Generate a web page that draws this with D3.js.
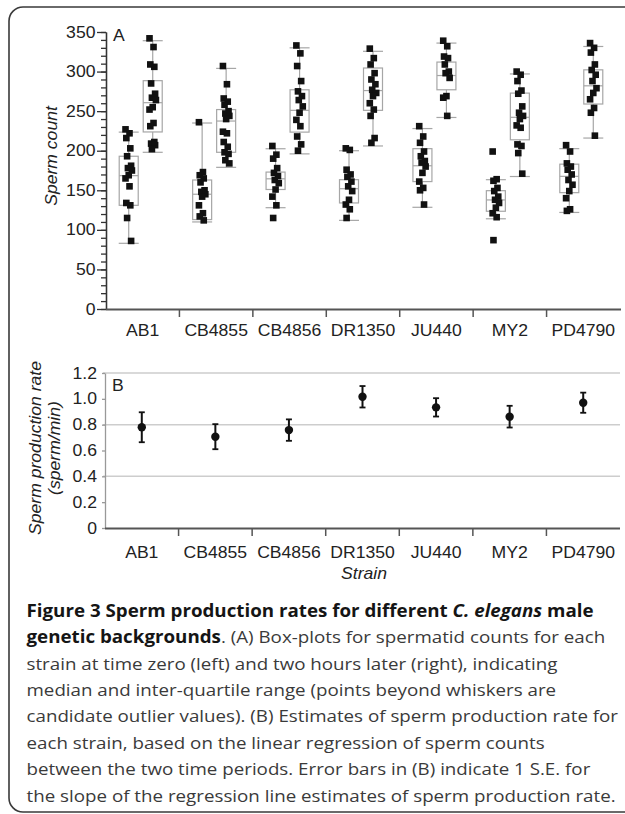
<!DOCTYPE html>
<html><head><meta charset="utf-8">
<script src="https://cdn.jsdelivr.net/npm/d3@7"></script>
<style>body{margin:0;background:#fff}svg{display:block}</style>
</head><body>
<svg id="c" width="625" height="814"></svg>
<script>
// ---------------- DATA ----------------
const strains = ["AB1","CB4855","CB4856","DR1350","JU440","MY2","PD4790"];

// Sperm counts at time zero (left box) and two hours later (right box)
const t0Counts = [
  [227,222,216,203,193,181,178,175,169,165,155,134,131,115,86],
  [236,173,169,165,160,150,148,145,142,131,121,117,112],
  [206,195,190,178,172,168,163,159,151,142,131,115],
  [203,201,176,170,167,161,155,149,138,132,126,115],
  [231,218,210,199,193,187,185,180,172,161,153,150,132],
  [199,164,162,153,149,142,138,134,128,121,116,87],
  [207,199,184,180,176,170,163,157,149,140,126,124]
];
const t2Counts = [
  [342,331,309,306,285,272,267,264,255,252,235,231,211,209,207,202],
  [307,284,266,262,258,250,247,244,240,224,222,211,205,198,196,188,184],
  [333,323,307,288,275,269,264,256,248,239,231,218,208,200],
  [329,317,309,298,290,284,277,273,269,260,252,244,216,210],
  [339,332,319,317,309,300,298,292,269,267,244],
  [300,296,288,276,272,256,248,244,240,232,229,208,206,197,171],
  [336,330,324,309,302,296,288,279,273,265,254,248,219]
];
// box stats: [lower whisker, Q1, median, Q3, upper whisker]
const t0Box = [
  [83,131,168.5,193,223.5],
  [110,113,145,163,235],
  [128,151,164.5,173,202.5],
  [112,134,152,163.4,200],
  [128.5,161,181,202.6,228],
  [114,123.5,137.8,149.5,163.4],
  [122,147,167.6,183,202.6]
];
const t2Box = [
  [198,223.7,260.7,288.5,339],
  [179,198,237.5,252,304],
  [196,223.5,251,277,330],
  [206,251,276,304.5,325.6],
  [242,277,295,312,336],
  [167.4,213.8,242.2,272.8,297],
  [216,259,282,302.2,331.7]
];
const countTicks = [0,50,100,150,200,250,300,350];

// Sperm production rate (sperm/min) and 1 S.E.
const rate   = [0.780,0.707,0.758,1.016,0.934,0.862,0.970];
const rateSE = [0.116,0.097,0.083,0.083,0.071,0.084,0.078];
const rateTicks = [0,0.2,0.4,0.6,0.8,1.0,1.2];
const rateGrid  = [0.4,0.8,1.2];

const captionLines = [
  [["Figure 3 Sperm production rates for different ","b"],["C. elegans","bi"],[" male","b"]],
  [["genetic backgrounds","b"],[". (A) Box-plots for spermatid counts for each","n"]],
  [["strain at time zero (left) and two hours later (right), indicating","n"]],
  [["median and inter-quartile range (points beyond whiskers are","n"]],
  [["candidate outlier values). (B) Estimates of sperm production rate for","n"]],
  [["each strain, based on the linear regression of sperm counts","n"]],
  [["between the two time periods. Error bars in (B) indicate 1 S.E. for","n"]],
  [["the slope of the regression line estimates of sperm production rate.","n"]]
];

// ---------------- DRAW ----------------
const svg = d3.select("#c");
const FONT = "'Liberation Sans', Arial, Helvetica, sans-serif";
const SX = 1.1; // horizontal stretch of the reference lettering

function txt(x, y, s, o = {}) {
  const rot = o.rotate ? ` rotate(${o.rotate})` : "";
  return svg.append("text")
    .attr("transform", `translate(${x},${y})${rot} scale(${SX},1)`)
    .attr("text-anchor", o.anchor || "start")
    .attr("font-family", FONT)
    .attr("font-size", o.size || 16)
    .attr("font-style", o.italic ? "italic" : "normal")
    .attr("fill", o.fill || "#222")
    .text(s);
}

// border
svg.append("rect").attr("x", 9).attr("y", 7).attr("width", 700).attr("height", 805)
  .attr("rx", 14).attr("fill", "none").attr("stroke", "#3a3a3a").attr("stroke-width", 1.6);

// ===== Panel A =====
const xA = d3.scaleBand().domain(strains).range([106, 620]).padding(0);
const yA = d3.scaleLinear().domain([0, 350]).range([309, 32]);

// y axis minor ticks
svg.append("g").attr("transform", "translate(106,0)")
  .call(d3.axisLeft(yA).tickValues(d3.range(0, 351, 10)).tickSize(5).tickSizeOuter(0).tickFormat(""))
  .call(g => g.selectAll("line,path").attr("stroke", "#333").attr("stroke-width", 1.3));
// y axis major ticks & labels
const gyA = svg.append("g").attr("transform", "translate(106,0)")
  .call(d3.axisLeft(yA).tickValues(countTicks).tickSize(9).tickSizeOuter(0));
gyA.selectAll("line,path").attr("stroke", "#333").attr("stroke-width", 1.3);
gyA.selectAll("text").attr("font-family", FONT).attr("font-size", 16).attr("fill", "#222")
  .attr("x", -9.6).attr("transform", `scale(${SX},1)`);

// x axis
svg.append("line").attr("x1", 106).attr("x2", 621).attr("y1", 309.5).attr("y2", 309.5)
  .attr("stroke", "#555").attr("stroke-width", 1.8);
strains.slice(1).forEach(s => {
  svg.append("line").attr("x1", xA(s)).attr("x2", xA(s)).attr("y1", 309).attr("y2", 317)
    .attr("stroke", "#555").attr("stroke-width", 1.5);
});
strains.forEach(s => txt(xA(s) + xA.bandwidth() / 2, 336, s, {anchor: "middle"}));

txt(57, 156, "Sperm count", {rotate: -90, anchor: "middle", italic: true});
txt(113, 41, "A");

// boxes
const boxW = 19, jit = k => (((k * 5) % 9) - 4) * 0.8;
function drawBox(cx, st, pts) {
  const g = svg.append("g");
  const gray = "#a6a6a6";
  g.append("line").attr("x1", cx).attr("x2", cx).attr("y1", yA(st[0])).attr("y2", yA(st[4]))
    .attr("stroke", gray).attr("stroke-width", 1.2);
  [st[0], st[4]].forEach(v => g.append("line").attr("x1", cx - boxW / 2 - 0.5).attr("x2", cx + boxW / 2 + 0.5)
    .attr("y1", yA(v)).attr("y2", yA(v)).attr("stroke", gray).attr("stroke-width", 1.2));
  g.append("rect").attr("x", cx - boxW / 2).attr("width", boxW)
    .attr("y", yA(st[3])).attr("height", yA(st[1]) - yA(st[3]))
    .attr("fill", "#fff").attr("stroke", gray).attr("stroke-width", 1.2);
  g.append("line").attr("x1", cx - boxW / 2).attr("x2", cx + boxW / 2)
    .attr("y1", yA(st[2])).attr("y2", yA(st[2])).attr("stroke", gray).attr("stroke-width", 1.2);
  g.selectAll("rect.p").data(pts).join("rect").attr("class", "p")
    .attr("x", (d, k) => cx + jit(k) - 3.3).attr("y", d => yA(d) - 3.3)
    .attr("width", 6.6).attr("height", 6.6).attr("fill", "#111");
}
strains.forEach((s, i) => {
  const c = xA(s) + xA.bandwidth() / 2;
  drawBox(c - 14, t0Box[i], t0Counts[i]);
  drawBox(c + 10, t2Box[i], t2Counts[i]);
});

// ===== Panel B =====
const xB = d3.scaleBand().domain(strains).range([105, 620]).padding(0);
const yB = d3.scaleLinear().domain([0, 1.2]).range([528, 373]);

rateGrid.forEach(v => svg.append("line").attr("x1", 103).attr("x2", 620)
  .attr("y1", yB(v)).attr("y2", yB(v)).attr("stroke", "#cdcdcd").attr("stroke-width", 1.5));

const gyB = svg.append("g").attr("transform", "translate(105,0)")
  .call(d3.axisLeft(yB).tickValues(rateTicks).tickSize(3).tickSizeOuter(0)
    .tickFormat(d => d === 0 ? "0" : d3.format(".1f")(d)));
gyB.selectAll("line,path").attr("stroke", "#999").attr("stroke-width", 1.3);
gyB.selectAll("text").attr("font-family", FONT).attr("font-size", 16).attr("fill", "#222")
  .attr("x", -7.3).attr("transform", `scale(${SX},1)`);

svg.append("line").attr("x1", 105).attr("x2", 620).attr("y1", 528.5).attr("y2", 528.5)
  .attr("stroke", "#555").attr("stroke-width", 1.8);
strains.slice(1).forEach(s => {
  svg.append("line").attr("x1", xB(s)).attr("x2", xB(s)).attr("y1", 528).attr("y2", 536)
    .attr("stroke", "#555").attr("stroke-width", 1.5);
});
strains.forEach(s => txt(xB(s) + xB.bandwidth() / 2, 557.5, s, {anchor: "middle"}));
txt(364, 578.5, "Strain", {anchor: "middle", italic: true});
txt(40.5, 448, "Sperm production rate", {rotate: -90, anchor: "middle", italic: true});
txt(59.5, 448, "(sperm/min)", {rotate: -90, anchor: "middle", italic: true});
txt(112, 391, "B");

strains.forEach((s, i) => {
  const cx = xB(s) + xB.bandwidth() / 2;
  const lo = yB(rate[i] - rateSE[i]), hi = yB(rate[i] + rateSE[i]);
  svg.append("line").attr("x1", cx).attr("x2", cx).attr("y1", lo).attr("y2", hi)
    .attr("stroke", "#111").attr("stroke-width", 2);
  [lo, hi].forEach(y => svg.append("line").attr("x1", cx - 3).attr("x2", cx + 3)
    .attr("y1", y).attr("y2", y).attr("stroke", "#111").attr("stroke-width", 1.8));
  svg.append("circle").attr("cx", cx).attr("cy", yB(rate[i])).attr("r", 4.2).attr("fill", "#111");
});

// ===== Caption =====
const capX = 26.5, capY0 = 616.7, capDY = 26.4;
const capTargets = [589.5, 577.5, 531.5, 523.5, 583.5, 513.5, 564.5, 585.5];
const capNodes = captionLines.map((line, li) => {
  const t = svg.append("text").attr("font-family", "'Open Sans', 'Noto Sans', sans-serif")
    .attr("font-size", 17.2).attr("transform", `translate(${capX},${capY0 + li * capDY})`);
  line.forEach(([s, st]) => {
    t.append("tspan").text(s)
      .attr("font-weight", st[0] === "b" ? "bold" : "normal")
      .attr("font-style", st === "bi" ? "italic" : "normal")
      .attr("fill", st[0] === "b" ? "#151515" : "#3a3a3a");
  });
  return t;
});
let sumM = 0, sumT = 0;
capNodes.forEach((t, i) => { sumM += t.node().getComputedTextLength(); sumT += capTargets[i]; });
const k = sumT / sumM;
capNodes.forEach((t, li) => t.attr("transform", `translate(${capX},${capY0 + li * capDY}) scale(${k},1)`));
</script>
</body></html>
